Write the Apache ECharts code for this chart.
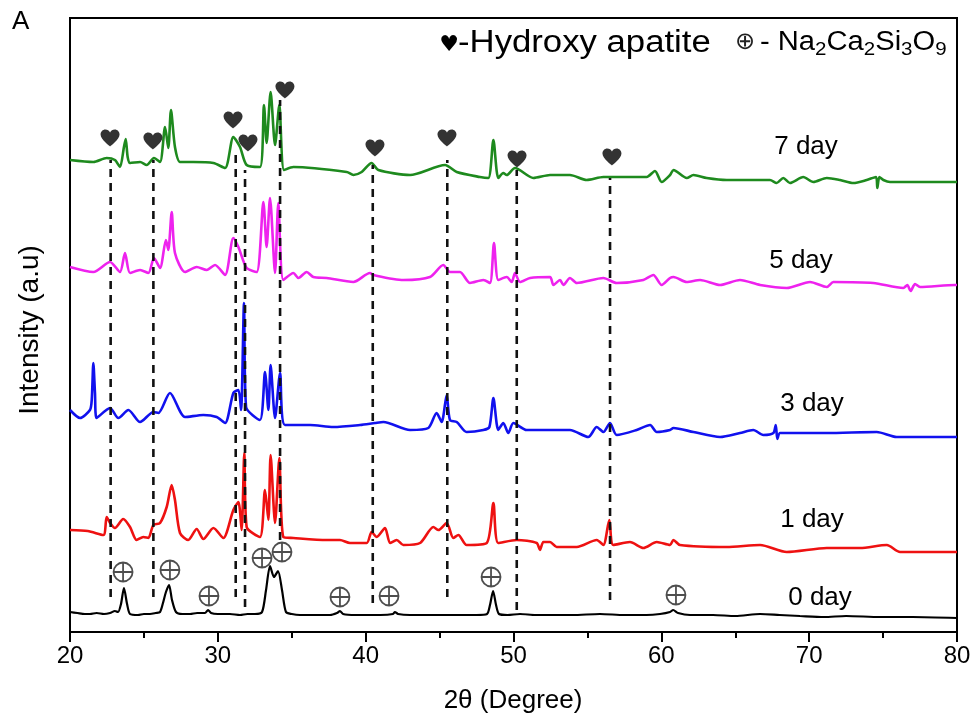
<!DOCTYPE html>
<html>
<head>
<meta charset="utf-8">
<script src="https://cdn.jsdelivr.net/npm/echarts@6/dist/echarts.min.js"></script>
<style>
html,body{margin:0;padding:0;background:#fff;}
#chart{width:974px;height:726px;}
</style>
</head>
<body>
<div id="chart"></div>
<script>
// ---- data (2θ in degrees, intensity in offset arbitrary units) ----
const seriesNames = ['0 day', '1 day', '3 day', '5 day', '7 day'];
const seriesColors = ['#000000', '#ee1111', '#1111ee', '#ee22ee', '#1e8a1e'];

const day0 = [[20.0,20],[20.5,19],[21.0,18],[21.35,18],[21.8,19],[22.3,18],[22.71,19],[23.04,21],[23.25,20],[23.45,28],[23.65,44],[23.86,28],[24.06,18],[24.6,17],[25.0,18],[25.41,18],[25.8,19],[26.09,20],[26.29,29],[26.49,40],[26.7,47],[26.9,32],[27.17,20],[27.6,18],[28.12,18],[28.6,19],[29.13,19],[29.34,22],[29.54,19],[30.0,18],[30.82,18],[31.5,17],[32.0,18],[32.51,18],[32.99,20],[33.26,42],[33.53,66],[33.8,55],[34.07,61],[34.34,42],[34.61,20],[35.0,18],[35.56,17],[36.5,17],[37.59,17],[38.06,19],[38.26,21],[38.47,18],[39.3,17],[40.29,17],[41.0,17],[41.85,18],[41.98,20],[42.19,18],[43.0,17],[43.68,17],[45.0,17],[46.38,17],[47.5,17],[48.21,18],[48.41,27],[48.62,41],[48.82,27],[49.02,18],[49.6,17],[50.44,18],[51.5,17],[52.47,17],[54.0,17],[55.85,18],[57.5,17],[59.0,17],[59.91,18],[60.59,20],[60.8,22],[61.13,19],[61.94,17],[63.5,17],[65.0,16],[66.68,18],[68.0,17],[69.38,16],[71.0,15],[72.5,16],[74.79,15],[77.0,15],[80.0,14]];

const day1 = [[20.0,102],[21.2,101],[22.26,97],[22.48,115],[22.71,109],[23.04,104],[23.6,113],[24.06,105],[24.51,92],[24.96,95],[25.3,94],[25.64,107],[26.09,109],[26.54,125],[26.88,147],[27.1,132],[27.44,99],[28.0,92],[28.57,103],[29.02,93],[29.7,104],[30.37,94],[31.05,122],[31.39,130],[31.61,102],[31.79,179],[31.95,105],[32.85,95],[33.19,142],[33.42,112],[33.57,177],[33.87,109],[34.16,174],[34.43,95],[35.11,94],[37.36,92],[38.26,92],[38.94,89],[40.07,89],[40.4,100],[40.75,95],[41.31,104],[41.65,89],[42.1,92],[42.55,87],[43.68,89],[44.58,105],[44.92,102],[45.48,109],[45.93,94],[46.27,97],[46.83,87],[48.19,89],[48.64,129],[48.97,89],[50.22,92],[51.57,89],[51.79,82],[52.02,90],[52.47,90],[52.92,85],[54.28,85],[55.63,92],[56.08,87],[56.48,112],[56.75,87],[57.88,90],[58.78,84],[59.69,90],[60.59,87],[60.82,92],[61.26,87],[64.42,85],[66.68,87],[68.48,80],[71.19,84],[73.44,84],[75.25,87],[76.15,80],[79.87,80],[80.0,80]];

const day3 = [[20.0,222],[20.68,214],[21.35,222],[21.47,232],[21.58,269],[21.69,239],[21.8,214],[22.71,224],[23.27,214],[23.95,222],[24.74,210],[25.64,220],[25.98,219],[26.76,239],[27.78,215],[29.02,217],[29.92,215],[30.49,209],[31.05,239],[31.39,242],[31.57,222],[31.77,329],[31.91,225],[32.85,212],[33.19,260],[33.42,222],[33.57,267],[33.87,214],[34.21,259],[34.54,207],[36.24,207],[37.81,205],[39.62,207],[40.63,209],[41.2,210],[43.0,202],[44.24,204],[44.8,219],[45.14,210],[45.48,237],[45.7,212],[46.16,210],[46.83,200],[47.96,202],[48.37,205],[48.64,234],[48.97,202],[49.31,209],[49.65,199],[49.99,209],[50.89,202],[53.82,202],[55.06,195],[55.63,205],[56.08,200],[56.53,209],[56.98,197],[58.33,202],[59.24,207],[59.69,200],[60.59,202],[60.82,204],[62.17,200],[63.97,195],[65.32,199],[66.22,202],[66.9,197],[67.58,199],[67.74,207],[67.85,193],[68.03,199],[71.19,199],[74.57,200],[75.92,195],[79.87,195],[80.0,195]];

const day5 = [[20.0,365],[21.58,360],[22.71,370],[23.38,360],[23.72,379],[24.06,359],[24.74,362],[25.3,359],[25.68,374],[26.09,364],[26.49,392],[26.65,382],[26.88,420],[27.1,379],[27.78,360],[28.57,365],[29.25,362],[29.81,367],[30.49,357],[31.05,394],[31.39,385],[31.95,364],[32.63,360],[33.08,430],[33.3,385],[33.53,434],[33.87,359],[34.09,429],[34.43,352],[35.11,359],[35.45,354],[36.01,360],[36.46,355],[37.36,354],[39.17,350],[40.29,359],[40.52,357],[42.55,352],[44.35,355],[45.25,367],[45.7,360],[46.38,360],[47.06,349],[47.96,352],[48.41,349],[48.68,389],[48.97,352],[49.54,355],[49.88,350],[50.1,359],[50.44,350],[51.12,354],[52.47,355],[52.7,347],[53.15,352],[53.37,347],[53.82,354],[54.28,349],[56.08,354],[56.98,349],[58.78,352],[59.46,357],[60.02,347],[60.59,354],[60.82,355],[61.72,350],[62.62,352],[63.97,347],[65.32,352],[66.68,347],[68.48,344],[70.06,350],[71.19,345],[71.64,350],[74.34,349],[76.37,344],[76.64,347],[76.86,341],[77.16,348],[77.5,345],[79.87,347],[80.0,347]];

const day7 = [[20.0,472],[21.58,470],[22.48,474],[23.04,472],[23.38,465],[23.65,485],[23.77,493],[23.9,475],[24.06,469],[24.74,470],[25.19,467],[25.68,474],[26.09,470],[26.43,505],[26.65,484],[26.83,522],[27.1,485],[27.44,470],[28.34,470],[29.7,469],[30.49,464],[31.05,495],[31.5,485],[31.95,467],[32.85,465],[33.12,527],[33.3,489],[33.57,540],[33.87,487],[34.16,527],[34.48,462],[35.11,465],[38.72,460],[39.17,457],[39.73,460],[40.4,469],[40.86,462],[43.0,457],[45.37,467],[46.16,460],[47.73,455],[48.3,454],[48.64,492],[48.97,454],[49.31,459],[49.54,457],[50.1,464],[51.34,454],[52.47,457],[53.82,457],[54.95,452],[56.08,455],[59.01,455],[59.57,461],[60.02,450],[60.59,457],[60.82,462],[61.72,454],[62.17,457],[63.07,454],[64.42,452],[67.35,452],[67.8,449],[68.25,454],[68.7,449],[69.6,455],[70.28,450],[71.19,454],[72.09,452],[72.99,449],[73.89,452],[74.52,455],[74.61,444],[74.75,455],[75.02,452],[75.47,450],[79.87,450],[80.0,450]];

// Hydroxyapatite reference lines (dashed) and markers
const dashX = [22.75, 25.64, 31.21, 31.84, 34.21, 40.48, 45.52, 50.22, 56.53];
const dashTop = [472, 472, 482, 462, 532, 467, 472, 462, 454];
const dashBottom = [35, 35, 35, 25, 92, 29, 35, 22, 32];
const heartX = [22.71, 25.61, 31.03, 32.04, 34.54, 40.63, 45.5, 50.24, 56.66];
const heartY = [494, 491, 512, 489, 542, 484, 494, 473, 475];
// Na2Ca2Si3O9 markers
const ncsX = [23.59, 26.76, 29.40, 32.99, 34.34, 38.26, 41.58, 48.48, 60.99];
const ncsY = [60, 62, 36, 74, 80, 35, 36, 55, 37];

const xTicks = [20, 30, 40, 50, 60, 70, 80];

// ---- chart ----
const chart = echarts.init(document.getElementById('chart'), null, {renderer: 'canvas'});
const FONT = 'Liberation Sans, Arial, sans-serif';
const allData = [day0, day1, day3, day5, day7];

const series = [];
allData.forEach((d, i) => {
  series.push({
    type: 'line', name: seriesNames[i], data: d, showSymbol: false, smooth: 0.25,
    lineStyle: {color: seriesColors[i], width: i === 0 ? 2.2 : 2.6}, z: 2, silent: true
  });
});
dashX.forEach((x, i) => {
  series.push({
    type: 'line', data: [[x, dashBottom[i]], [x, dashTop[i]]], showSymbol: false,
    lineStyle: {color: '#111', width: 2.6, type: [8, 6]}, z: 3, silent: true
  });
});
series.push({
  type: 'scatter', data: heartX.map((x, i) => [x, heartY[i]]),
  symbol: 'path://M12,21 C12,21 1,13 1,7 C1,3.5 3.5,1 6.5,1 C9,1 11,2.5 12,4.5 C13,2.5 15,1 17.5,1 C20.5,1 23,3.5 23,7 C23,13 12,21 12,21 Z',
  symbolSize: [19, 17], itemStyle: {color: '#000'}, z: 4, silent: true
});
series.push({
  type: 'scatter', data: ncsX.map((x, i) => [x, ncsY[i]]),
  symbol: 'path://M0,10 A10,10 0 1,1 20,10 A10,10 0 1,1 0,10 Z M10,0 L10,20 M0,10 L20,10',
  symbolSize: 19, itemStyle: {color: 'rgba(0,0,0,0)', borderColor: '#222', borderWidth: 1.8}, z: 4, silent: true
});

const dayLabels = [
  {t: '7 day', x: 806, y: 147},
  {t: '5 day', x: 801, y: 261},
  {t: '3 day', x: 812, y: 404},
  {t: '1 day', x: 812, y: 520},
  {t: '0 day', x: 820, y: 598}
];

const graphic = [
  {type: 'text', left: 12, top: 9, style: {text: 'A', font: '26px ' + FONT, fill: '#000'}},
  {type: 'text', x: 30, y: 330, rotation: Math.PI / 2,
   style: {text: 'Intensity (a.u)', font: '28px ' + FONT, fill: '#000', align: 'center', verticalAlign: 'middle'}},
  {type: 'text', x: 513, y: 701,
   style: {text: '2θ (Degree)', font: '26px ' + FONT, fill: '#000', align: 'center', verticalAlign: 'middle'}},
  {type: 'text', x: 449, y: 45,
   style: {text: '♥', font: '22px DejaVu Sans', fill: '#000', align: 'center', verticalAlign: 'middle'}},
  {type: 'text', x: 458, y: 43, scaleX: 1.12,
   style: {text: '-Hydroxy apatite', font: '31px ' + FONT, fill: '#000', align: 'left', verticalAlign: 'middle'}},
  {type: 'text', x: 745, y: 43,
   style: {text: '⊕', font: '24px DejaVu Sans', fill: '#222', align: 'center', verticalAlign: 'middle'}},
  {type: 'text', x: 760, y: 27, scaleX: 1.08,
   style: {
     text: '{n|- Na}{s|2}{n|Ca}{s|2}{n|Si}{s|3}{n|O}{s|9}',
     rich: {
       n: {fontFamily: FONT, fontSize: 27, lineHeight: 32, verticalAlign: 'middle', fill: '#000'},
       s: {fontFamily: FONT, fontSize: 19, lineHeight: 18, verticalAlign: 'bottom', fill: '#000'}
     }
   }}
];
dayLabels.forEach(l => {
  graphic.push({type: 'text', x: l.x, y: l.y,
    style: {text: l.t, font: '26px ' + FONT, fill: '#000', align: 'center', verticalAlign: 'middle'}});
});

chart.setOption({
  animation: false,
  backgroundColor: '#fff',
  grid: {left: 70, right: 17, top: 18, bottom: 94, show: true, borderColor: '#000', borderWidth: 2, backgroundColor: 'transparent'},
  xAxis: {
    type: 'value', min: xTicks[0], max: xTicks[xTicks.length - 1], interval: 10,
    axisLine: {show: true, onZero: false, lineStyle: {color: '#000', width: 2}},
    axisTick: {show: true, inside: false, length: 10, lineStyle: {color: '#000', width: 2}},
    minorTick: {show: true, splitNumber: 2, length: 6, lineStyle: {color: '#000', width: 2}},
    axisLabel: {color: '#000', fontSize: 24, fontFamily: FONT, margin: 12},
    splitLine: {show: false}
  },
  yAxis: {
    type: 'value', min: 0, max: 614,
    axisLine: {show: true, lineStyle: {color: '#000', width: 2}},
    axisTick: {show: false}, axisLabel: {show: false}, splitLine: {show: false}
  },
  graphic: graphic,
  series: series
});
</script>
</body>
</html>
